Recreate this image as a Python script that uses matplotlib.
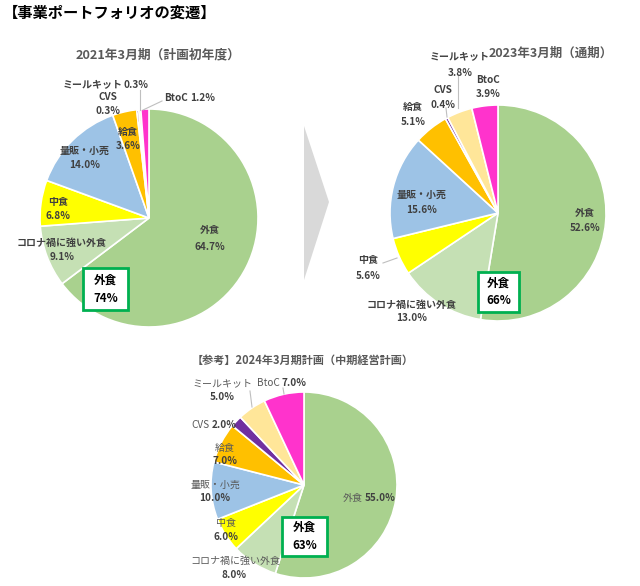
import matplotlib
matplotlib.use("Agg")
import matplotlib.pyplot as plt
from matplotlib.patches import Polygon, Rectangle

plt.rcParams["font.family"] = ["Noto Sans CJK JP", "DejaVu Sans"]

# data
categories = ["外食", "コロナ禍に強い外食", "中食", "量販・小売", "給食", "CVS", "ミールキット", "BtoC"]
share_2021 = [64.7, 9.1, 6.8, 14.0, 3.6, 0.3, 0.3, 1.2]
share_2023 = [52.6, 13.0, 5.6, 15.6, 5.1, 0.4, 3.8, 3.9]
share_2024 = [55.0, 8.0, 6.0, 10.0, 7.0, 2.0, 5.0, 7.0]
gaishoku_total = [74, 66, 63]
titles = ["2021年3月期（計画初年度）", "2023年3月期（通期）", "【参考】2024年3月期計画（中期経営計画）"]
colors = ["#A9D18E", "#C5E0B4", "#FFFF00", "#9DC3E6", "#FFC000", "#7030A0", "#FFE699", "#FF33CC"]

W, H = 640, 586
LBL = "#404040"

# layout in pixels (x, y from top): pie centre, radius, title pos, box
pies = [
    dict(vals=share_2021, c=(149, 218), r=109, title=(158, 55), tsize=9.2,
         box=(83, 268, 45, 42)),
    dict(vals=share_2023, c=(498, 213), r=108, title=(551, 53), tsize=9.0,
         box=(478, 272, 41, 40)),
    dict(vals=share_2024, c=(304, 485), r=93, title=(303, 360), tsize=8.0,
         box=(282, 517, 45, 39)),
]

# label positions: (name_x, name_y, name_ha, val_x, val_y, val_ha)
label_pos = [
    [(210, 230, "center", 210, 247, "center"),
     (62, 243, "center", 62, 257, "center"),
     (58, 202, "center", 58, 216, "center"),
     (85, 151, "center", 85, 165, "center"),
     (128, 132, "center", 128, 146, "center"),
     (108, 97, "center", 108, 111, "center"),
     (123, 85, "right", 124, 85, "left"),
     (188, 98, "right", 190, 98, "left")],
    [(585, 213, "center", 585, 228, "center"),
     (412, 305, "center", 412, 318, "center"),
     (368, 260, "center", 368, 276, "center"),
     (422, 195, "center", 422, 210, "center"),
     (413, 107, "center", 413, 122, "center"),
     (443, 90, "center", 443, 105, "center"),
     (460, 57, "center", 460, 73, "center"),
     (488, 80, "center", 488, 94, "center")],
    [(363, 498, "right", 365, 498, "left"),
     (235, 561, "center", 234, 575, "center"),
     (226, 523, "center", 226, 537, "center"),
     (215, 485, "center", 215, 498, "center"),
     (225, 448, "center", 225, 461, "center"),
     (210, 425, "right", 212, 425, "left"),
     (222, 383, "center", 222, 397, "center"),
     (280, 383, "right", 281, 383, "left")],
]

# leader lines (x0, y0, x1, y1)
leaders = [
    [(140, 90, 140, 110), (143, 110, 162, 101)],
    [(383, 263, 397, 258), (458, 76, 458, 108), (446, 108, 447, 117)],
    [(250, 391, 252, 407), (283, 388, 284, 394)],
]


def Y(y):
    return H - y


fig = plt.figure(figsize=(W / 100, H / 100), dpi=100)
ax = fig.add_axes([0, 0, 1, 1])

for k, p in enumerate(pies):
    cx, cy = p["c"]
    ax.pie(p["vals"], colors=colors, startangle=90, counterclock=False,
           center=(cx, Y(cy)), radius=p["r"],
           wedgeprops=dict(edgecolor="white", linewidth=1.2))
    ax.text(p["title"][0], Y(p["title"][1]), titles[k], ha="center", va="center",
            fontsize=p["tsize"], fontweight="bold", color="#595959")
    for i, name in enumerate(categories):
        nx, ny, nha, vx, vy, vha = label_pos[k][i]
        w_name = "normal" if k == 2 else "bold"
        ax.text(nx, Y(ny), name, ha=nha, va="center", fontsize=7.2,
                fontweight=w_name, color="#595959" if k == 2 else LBL)
        ax.text(vx, Y(vy), f"{p['vals'][i]:.1f}%", ha=vha, va="center",
                fontsize=7.2, fontweight="bold", color=LBL)
    for x0, y0, x1, y1 in leaders[k]:
        ax.plot([x0, x1], [Y(y0), Y(y1)], color="#BFBFBF", lw=0.8)
    bx, by, bw, bh = p["box"]
    ax.add_patch(Rectangle((bx, Y(by + bh)), bw, bh, facecolor="white",
                           edgecolor="#00B050", lw=2, zorder=5))
    ax.text(bx + bw / 2, Y(by + bh / 2), f"外食\n{gaishoku_total[k]}%", ha="center",
            va="center", fontsize=8.3, fontweight="bold", color="black",
            linespacing=1.5, zorder=6)

# chevron arrow
ax.add_patch(Polygon([(304, Y(126)), (329, Y(202)), (304, Y(280))],
                     closed=True, facecolor="#D9D9D9", edgecolor="none"))

ax.text(3, Y(13), "【事業ポートフォリオの変遷】", ha="left", va="center",
        fontsize=11, fontweight="bold", color="black")

ax.set_xlim(0, W)
ax.set_ylim(0, H)
ax.set_aspect("equal")
ax.axis("off")

fig.savefig("out.png", dpi=100)
